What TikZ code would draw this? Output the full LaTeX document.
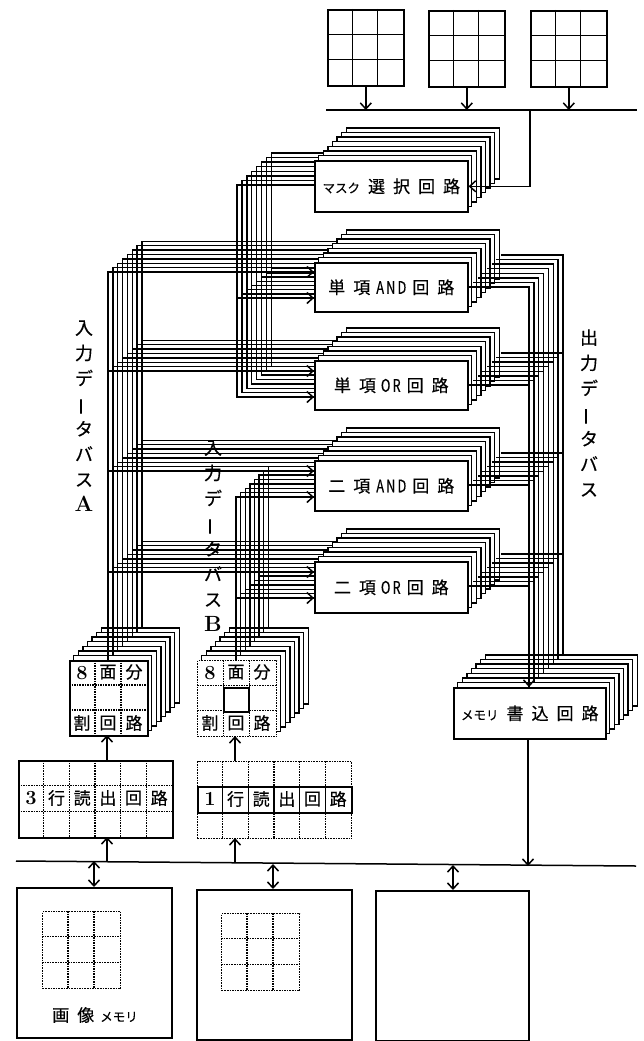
\documentclass[tikz,border=0pt]{standalone}
\usepackage{fontspec}
\usepackage{tikz}
\usetikzlibrary{arrows.meta, calc}
\newfontfamily\jpfont[FakeBold=0.4]{Noto Sans CJK JP}
\tikzset{
    wire/.style={line width=1.4pt},
    barb/.style={line width=1.5pt, -{Straight Barb[length=6pt, width=11pt]}},
    barbs/.style={line width=1.5pt, {Straight Barb[length=6pt, width=11pt]}-{Straight Barb[length=6pt, width=11pt]}},
    solidbox/.style={draw, fill=white, line width=1.6pt, inner sep=0pt, anchor=north west},
    dotbox/.style={solidbox, line width=1.4pt, dash pattern=on 1.6pt off 1pt},
    dotline/.style={line width=1.3pt, dash pattern=on 1.6pt off 1pt},
    gridline/.style={line width=1.4pt},
    circuitlabel/.style={font=\jpfont\fontsize{17}{17}\selectfont, inner sep=0pt},
    cellchar/.style={font=\jpfont\fontsize{17}{17}\selectfont, inner sep=0pt},
    cellnum/.style={font=\rmfamily\bfseries\fontsize{20}{20}\selectfont, inner sep=0pt},
    buslabel/.style={font=\jpfont\fontsize{18}{25.3}\selectfont, align=center, inner sep=0pt},
}
\newcommand{\gp}{\hspace{8pt}}
\newcommand{\kana}[1]{{\fontsize{12.5}{13}\selectfont #1}}
\newcommand{\latin}[1]{\scalebox{0.85}[1.15]{\fontsize{15}{15}\selectfont #1}}
\newcommand{\vbar}{\rotatebox[origin=c]{90}{ー}}
% back planes of a stack, the front one is a node on top
\newcommand{\backplanes}[4]{
    \foreach \i in {7,...,1} {
        \draw[fill=white, line width=1.4pt] ({#1+\i*4.6},{#2-\i*4.6}) rectangle ++(#3,#4);
    }
}
\newcommand{\stackbox}[6]{
    \backplanes{#1}{#2}{#3}{#4}
    \node[solidbox, minimum width=#3pt, minimum height=#4pt] (#5) at (#1,#2) {};
    \node[circuitlabel] (#5text) at (#5.center) {#6};
}
% inner lines of a cell grid
\newcommand{\celllines}[7]{
    \foreach \c in {1,...,#5} {
        \draw[#7] ({#1+\c*#3/(#5+1)},#2) -- ++(0,#4);
    }
    \foreach \r in {1,...,#6} {
        \draw[#7] (#1,{#2+\r*#4/(#6+1)}) -- ++(#3,0);
    }
}
\begin{document}
\begin{tikzpicture}[x=1pt, y=-1pt]
    \useasboundingbox (0,0) rectangle (644,1041);

    % Mask registers
    \foreach \n/\x/\y in {1/327/9, 2/428/10, 3/530/10} {
        \node[solidbox, minimum width=76pt, minimum height=76pt] (mask\n) at (\x,\y) {};
        \celllines{\x}{\y}{76}{76}{2}{2}{gridline}
    }
    \coordinate (topbusL) at (326,110);
    \coordinate (topbusR) at (637,110);
    \draw[line width=1.5pt] (topbusL) -- (topbusR);
    \foreach \n in {1,2,3} {
        \draw[barb] (mask\n.south) -- (mask\n.south |- topbusL);
    }

    % Splitter stacks and write stack
    \stackbox{69}{660}{78}{75}{splitA}{}
    \celllines{69}{660}{78}{75}{2}{2}{dotline}
    \backplanes{197}{660}{79}{76}
    \node[dotbox, minimum width=79pt, minimum height=76pt] (splitB) at (197,660) {};
    \celllines{197}{660}{79}{76}{2}{2}{dotline}
    \node[solidbox, minimum width=25pt, minimum height=24pt] (splitBmid) at (223,687) {};
    \foreach \ch [count=\n] in {面,分} {
        \node[cellchar] (splitAa\n) at ({69+39+(\n-1)*26},672) {\ch};
        \node[cellchar] (splitBa\n) at ({197+39+(\n-1)*26},672) {\ch};
    }
    \foreach \ch [count=\n] in {割,回,路} {
        \node[cellchar] (splitAb\n) at ({69+13+(\n-1)*26},723) {\ch};
        \node[cellchar] (splitBb\n) at ({197+13+(\n-1)*26},723) {\ch};
    }
    \node[cellnum] (splitAnum) at (82,673) {8};
    \node[cellnum] (splitBnum) at (210,673) {8};
    \stackbox{453}{687}{152}{51}{writer}{\kana{メモリ}\gp 書\gp 込\gp 回\gp 路}

    % Input bus A
    \foreach \i in {0,...,7} {
        \coordinate (Afoot\i) at ({108+\i*4.85},{660-\i*4.6});
        \draw[wire] (Afoot\i) |- (350,{272-\i*4.4});
        \foreach \lvl in {371,471,572} {
            \draw[wire] (Afoot\i |- 350,{\lvl-\i*4.4}) -- (350,{\lvl-\i*4.4});
        }
    }
    % Input bus B
    \foreach \i in {0,...,7} {
        \coordinate (Bfoot\i) at ({236+\i*4.6},{660-\i*4.6});
        \draw[wire] (Bfoot\i) |- (350,{497-\i*4.4});
        \draw[wire] (Bfoot\i |- 350,{598-\i*4.4}) -- (350,{598-\i*4.4});
    }
    % Mask bus
    \foreach \i in {0,...,7} {
        \coordinate (Mtop\i) at ({237+\i*4.9},{185-\i*4.6});
        \draw[wire] (350,{185-\i*4.6}) -- (Mtop\i) |- (350,{397-\i*4.4});
        \draw[wire] (Mtop\i |- 350,{298-\i*4.2}) -- (350,{298-\i*4.2});
    }

    % Circuits
    \stackbox{314}{160}{153}{51}{maskselect}{\kana{マスク}\gp 選\gp 択\gp 回\gp 路}
    \stackbox{314}{262}{153}{49}{andone}{単\gp 項\hspace{6pt}\latin{A\,N\,D}\hspace{6pt}回\gp 路}
    \stackbox{314}{360}{153}{49}{orone}{単\gp 項\hspace{5pt}\latin{O\,R}\hspace{6pt}回\gp 路}
    \stackbox{314}{460}{153}{50}{andtwo}{二\gp 項\hspace{6pt}\latin{A\,N\,D}\hspace{6pt}回\gp 路}
    \stackbox{314}{561}{153}{51}{ortwo}{二\gp 項\hspace{5pt}\latin{O\,R}\hspace{6pt}回\gp 路}

    % Output bus
    \foreach \i in {0,...,7} {
        \coordinate (Ofoot\i) at ({529+\i*4.85},{687-\i*4.6});
        \draw[wire] ($(andone.north east)+({\i*4.6},{25-\i*4.6})$) -| (Ofoot\i);
        \foreach \c in {orone,andtwo,ortwo} {
            \draw[wire] ($(\c.north east)+({\i*4.6},{25-\i*4.6})$) -- (Ofoot\i |- {$(\c.north east)+(0,{25-\i*4.6})$});
        }
    }
    \draw[barb] ($(Ofoot0)+(0,-20)$) -- (Ofoot0);

    % Arrows into the circuits
    \draw[barb] (290,272) -- (andone.west |- 0,272);
    \draw[barb] (290,298) -- (andone.west |- 0,298);
    \draw[barb] (290,371) -- (orone.west |- 0,371);
    \draw[barb] (290,397) -- (orone.west |- 0,397);
    \draw[barb] (290,471) -- (andtwo.west |- 0,471);
    \draw[barb] (290,497) -- (andtwo.west |- 0,497);
    \draw[barb] (290,572) -- (ortwo.west |- 0,572);
    \draw[barb] (290,598) -- (ortwo.west |- 0,598);
    \coordinate (maskjoin) at (530,110);
    \draw[barb] (maskjoin) |- (maskselect.east);

    % Line readers
    \node[solidbox, minimum width=154pt, minimum height=77pt] (readA) at (18,760) {};
    \celllines{18}{760}{154}{77}{5}{2}{dotline}
    \node[dotbox, minimum width=154pt, minimum height=77pt] (readB) at (197,761) {};
    \celllines{197}{761}{154}{77}{5}{2}{dotline}
    \node[solidbox, minimum width=154pt, minimum height=26pt] (readBrow) at (197,786) {};
    \foreach \c in {1,...,5} {
        \draw[gridline] ({197+\c*25.67},786) -- ++(0,26);
    }
    \node[cellnum] (readAnum) at (31,798) {3};
    \node[cellnum] (readBnum) at (210,799) {1};
    \foreach \ch [count=\n] in {行,読,出,回,路} {
        \node[cellchar] (readAc\n) at ({18+38.5+(\n-1)*25.67},798) {\ch};
        \node[cellchar] (readBc\n) at ({197+38.5+(\n-1)*25.67},799) {\ch};
    }
    \draw[barb] (107,760) -- (107,735);
    \draw[barb] (235,761) -- (235,736);

    % Image bus
    \coordinate (busL) at (16,861);
    \coordinate (busR) at (636,866);
    \draw[line width=1.5pt] (busL) -- (busR);
    \coordinate (busreadA) at (107,862);
    \coordinate (busreadB) at (235,863);
    \coordinate (buswrite) at (528,866);
    \draw[barb] (busreadA) -- (107,837);
    \draw[barb] (busreadB) -- (235,838);
    \draw[barb] (writer.south -| buswrite) -- (buswrite);

    % Image memories
    \node[solidbox, minimum width=155pt, minimum height=150pt] (memA) at (16,887) {};
    \node[solidbox, minimum width=155pt, minimum height=150pt] (memB) at (196,889) {};
    \node[solidbox, minimum width=153pt, minimum height=150pt] (memC) at (375,890) {};
    \node[dotbox, minimum width=78pt, minimum height=77pt] (gridA) at (42,911) {};
    \celllines{42}{911}{78}{77}{2}{2}{dotline}
    \node[dotbox, minimum width=78pt, minimum height=77pt] (gridB) at (221,913) {};
    \celllines{221}{913}{78}{77}{2}{2}{dotline}
    \node[circuitlabel] (memAtext) at (95,1015) {画\gp 像\hspace{6pt}\kana{メモリ}};
    \coordinate (busmemA) at (94,861);
    \coordinate (busmemB) at (273,864);
    \coordinate (busmemC) at (453,865);
    \draw[barbs] (busmemA) -- (memA.north -| busmemA);
    \draw[barbs] (busmemB) -- (memB.north -| busmemB);
    \draw[barbs] (busmemC) -- (memC.north -| busmemC);

    % Bus names
    \node[buslabel] (nameA) at (84,416) {入\\力\\デ\\\vbar\\タ\\バ\\ス\\{\rmfamily\bfseries\fontsize{22}{25.3}\selectfont A}};
    \node[buslabel] (nameB) at (213,536) {入\\力\\デ\\\vbar\\タ\\バ\\ス\\{\rmfamily\bfseries\fontsize{22}{25.3}\selectfont B}};
    \node[buslabel] (nameO) at (589,413) {出\\力\\デ\\\vbar\\タ\\バ\\ス};
\end{tikzpicture}
\end{document}
